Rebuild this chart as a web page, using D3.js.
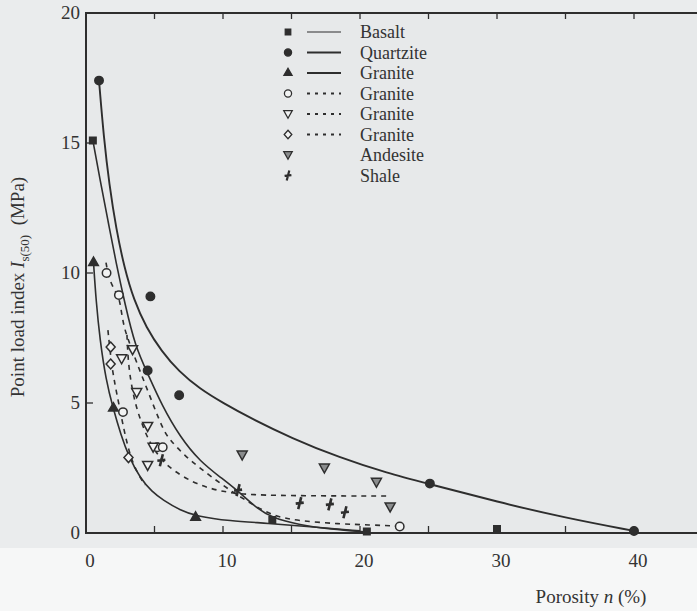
<!DOCTYPE html>
<html>
<head>
<meta charset="utf-8">
<script src="https://cdn.jsdelivr.net/npm/d3@7"></script>
<style>
  body { margin: 0; background: #f6f7f7; }
  #chart { width: 697px; height: 611px; }
</style>
</head>
<body>
<div id="chart"></div>
<script>
// measured points [porosity %, Is(50) MPa]
const basaltPts = [[0.5, 15.1], [13.6, 0.5], [20.5, 0.06], [30, 0.15]]
const quartzitePts = [[0.95, 17.4], [4.7, 9.1], [4.5, 6.25], [6.8, 5.3], [25.1, 1.9], [40, 0.08]]
const graniteTriPts = [[0.55, 10.4], [2.0, 4.8], [8.0, 0.6]]
const graniteCirclePts = [[1.5, 10.0], [2.4, 9.15], [2.7, 4.65], [5.2, 3.3], [5.6, 3.3], [22.9, 0.25]]
const graniteInvTriPts = [[2.6, 6.7], [3.4, 7.05], [3.7, 5.4], [4.5, 4.1], [4.9, 3.3], [4.5, 2.6]]
const graniteDiamondPts = [[1.8, 7.15], [1.8, 6.5], [3.1, 2.9]]
const andesitePts = [[11.4, 3.0], [17.4, 2.5], [21.2, 1.95], [22.2, 1.0]]
const shalePts = [[5.5, 2.8], [11.1, 1.65], [15.6, 1.15], [17.8, 1.1], [18.9, 0.8]]

// fitted curves as drawn in the figure
const quartziteCurve = [[0.95, 17.4], [1.3, 15.2], [1.7, 13.4], [2.2, 11.7], [2.8, 10.2], [3.5, 8.95], [4.4, 7.9], [5.5, 7.0], [6.8, 6.2], [8.3, 5.55], [10, 5.0], [12, 4.42], [15, 3.65], [18.5, 2.9], [22, 2.3], [25.1, 1.88], [30, 1.2], [35, 0.58], [40, 0.08]]
const basaltCurve = [[0.5, 15.1], [1.02, 13.6], [1.61, 12.0], [2.19, 10.4], [2.85, 8.8], [3.58, 7.2], [4.53, 6.1], [5.55, 4.9], [6.86, 3.7], [8.32, 2.75], [9.93, 2.1], [11.24, 1.55], [12.34, 1.0], [13.58, 0.58], [15.6, 0.31], [17.8, 0.15], [20.5, 0.04]]
const graniteTriCurve = [[0.55, 10.4], [0.73, 8.96], [1.02, 7.42], [1.46, 5.88], [1.97, 4.81], [2.55, 3.77], [3.14, 2.92], [3.94, 2.12], [4.82, 1.58], [5.62, 1.27], [6.86, 0.88], [8.03, 0.65], [10.5, 0.46], [13.2, 0.38], [16.6, 0.23], [20, 0.08]]
const graniteCircleCurve = [[1.46, 10.4], [1.61, 9.96], [1.9, 9.5], [2.41, 9.08], [2.55, 8.62], [2.77, 7.92], [3.07, 7.46], [3.65, 6.62], [4.6, 5.35], [5.62, 3.96], [6.13, 3.58], [7.23, 2.96], [8.32, 2.5], [9.93, 1.85], [11.6, 1.27], [13.58, 0.65], [15.6, 0.46], [18.5, 0.35], [20.7, 0.31], [22.7, 0.27]]
const graniteInvTriCurve = [[2.99, 7.62], [3.07, 6.65], [3.28, 5.77], [3.65, 4.85], [4.16, 4.08], [4.67, 3.46], [5.4, 2.88], [6.28, 2.42], [8.1, 1.85], [10.0, 1.58], [11.97, 1.46], [16.0, 1.43], [22.2, 1.42]]
const graniteDiamondCurve = [[1.6, 7.8], [1.9, 6.27], [2.34, 5.12], [2.77, 3.96], [3.2, 3.0], [3.7, 2.35], [4.3, 1.85]]

const legendLabels = ['Basalt', 'Quartzite', 'Granite', 'Granite', 'Granite', 'Granite', 'Andesite', 'Shale']
const xTicks = [0, 10, 20, 30, 40]
const minorTicks = [5, 10, 15, 20, 25, 30, 35, 40]
const yTicks = [0, 5, 10, 15, 20]

const width = 697
const height = 611
const ink = '#2e2e2e'
const serif = '"Liberation Serif", "DejaVu Serif", serif'

const x = d3.scaleLinear().domain([0, 45]).range([86, 702.5])
const y = d3.scaleLinear().domain([0, 20]).range([533, 13])

const svg = d3.select('#chart')
  .append('svg')
  .attr('width', width)
  .attr('height', height)
  .style('font-family', serif)

svg.append('rect')
  .attr('width', width)
  .attr('height', 548)
  .attr('fill', '#eaeced')

// frame
svg.append('rect')
  .attr('x', x(0))
  .attr('y', y(20))
  .attr('width', x(45) - x(0))
  .attr('height', y(0) - y(20))
  .attr('fill', '#e7e9ea')
  .attr('stroke', ink)
  .attr('stroke-width', 2)

// inward ticks
svg.append('g')
  .selectAll('line')
  .data(minorTicks)
  .join('line')
  .attr('x1', d => x(d)).attr('x2', d => x(d))
  .attr('y1', y(0)).attr('y2', y(0) - 7)
  .attr('stroke', ink).attr('stroke-width', 1.3)

svg.append('g')
  .selectAll('line')
  .data(minorTicks)
  .join('line')
  .attr('x1', d => x(d)).attr('x2', d => x(d))
  .attr('y1', y(20)).attr('y2', y(20) + 6)
  .attr('stroke', ink).attr('stroke-width', 1.3)

svg.append('g')
  .selectAll('line')
  .data([5, 10, 15])
  .join('line')
  .attr('x1', x(0)).attr('x2', x(0) + 7)
  .attr('y1', d => y(d)).attr('y2', d => y(d))
  .attr('stroke', ink).attr('stroke-width', 1.3)

// tick labels
svg.append('g')
  .selectAll('text')
  .data(xTicks)
  .join('text')
  .attr('x', d => x(d) + 4)
  .attr('y', 567)
  .attr('text-anchor', 'middle')
  .attr('font-size', 19)
  .attr('fill', '#333')
  .text(d => d)

svg.append('g')
  .selectAll('text')
  .data(yTicks)
  .join('text')
  .attr('x', 80)
  .attr('y', d => y(d) + 6)
  .attr('text-anchor', 'end')
  .attr('font-size', 19)
  .attr('fill', '#333')
  .text(d => d)

// axis titles
const xt = svg.append('text')
  .attr('x', 591)
  .attr('y', 603)
  .attr('text-anchor', 'middle')
  .attr('font-size', 19)
  .attr('fill', '#333')
xt.append('tspan').text('Porosity ')
xt.append('tspan').attr('font-style', 'italic').text('n')
xt.append('tspan').text(' (%)')

const yt = svg.append('text')
  .attr('transform', 'translate(24,287) rotate(-90)')
  .attr('text-anchor', 'middle')
  .attr('font-size', 19)
  .attr('fill', '#333')
yt.append('tspan').text('Point load index ')
yt.append('tspan').attr('font-style', 'italic').text('I')
yt.append('tspan').attr('font-size', 13).attr('dy', 5).text('s(50)')
yt.append('tspan').attr('dy', -5).text('\u2002(MPa)')

// curves
const line = d3.line()
  .x(d => x(d[0]))
  .y(d => y(d[1]))
  .curve(d3.curveBasis)

const curves = [
  { pts: quartziteCurve, w: 1.9, dash: null },
  { pts: basaltCurve, w: 1.6, dash: null },
  { pts: graniteTriCurve, w: 1.6, dash: null },
  { pts: graniteCircleCurve, w: 1.6, dash: '5,5' },
  { pts: graniteInvTriCurve, w: 1.6, dash: '5,5' },
  { pts: graniteDiamondCurve, w: 1.6, dash: '5,5' }
]

svg.append('g')
  .selectAll('path')
  .data(curves)
  .join('path')
  .attr('d', d => line(d.pts))
  .attr('fill', 'none')
  .attr('stroke', ink)
  .attr('stroke-width', d => d.w)
  .attr('stroke-dasharray', d => d.dash)

// markers
const invTri = 'M-5,-4L5,-4L0,5Z'
const shalePath = 'M-1.5,6L1.5,-6M-4,0.5L4,-0.5'
const sym = {
  square: d3.symbol(d3.symbolSquare, 42)(),
  circle: d3.symbol(d3.symbolCircle, 56)(),
  triangle: d3.symbol(d3.symbolTriangle, 40)(),
  diamond: 'M0,-5L4.5,0L0,5L-4.5,0Z'
}

const series = [
  { pts: basaltPts, path: sym.square, fill: ink, stroke: ink },
  { pts: quartzitePts, path: sym.circle, fill: ink, stroke: ink },
  { pts: graniteTriPts, path: sym.triangle, fill: ink, stroke: ink },
  { pts: graniteCirclePts, path: sym.circle, fill: '#f2f3f3', stroke: ink },
  { pts: graniteInvTriPts, path: invTri, fill: '#f2f3f3', stroke: ink },
  { pts: graniteDiamondPts, path: sym.diamond, fill: '#f2f3f3', stroke: ink },
  { pts: andesitePts, path: invTri, fill: '#8a8c8d', stroke: ink },
  { pts: shalePts, path: shalePath, fill: 'none', stroke: ink, w: 2.6 }
]

series.forEach(s => {
  svg.append('g')
    .selectAll('path')
    .data(s.pts)
    .join('path')
    .attr('transform', d => `translate(${x(d[0])},${y(d[1])})`)
    .attr('d', s.path)
    .attr('fill', s.fill)
    .attr('stroke', s.stroke)
    .attr('stroke-width', s.w || 1.5)
})

// legend
const legend = svg.append('g')
const rowY = i => 32 + i * 20.5
const legendLines = [
  { w: 1.1, dash: null },
  { w: 2.2, dash: null },
  { w: 1.8, dash: null },
  { w: 1.8, dash: '3,5' },
  { w: 1.8, dash: '3,5' },
  { w: 1.8, dash: '3,5' },
  null,
  null
]

legend.selectAll('path')
  .data(series)
  .join('path')
  .attr('transform', (d, i) => `translate(288,${rowY(i)}) scale(0.85)`)
  .attr('d', d => d.path)
  .attr('fill', d => d.fill)
  .attr('stroke', d => d.stroke)
  .attr('stroke-width', d => d.w || 1.5)

legend.selectAll('line')
  .data(legendLines.map((d, i) => ({ ...d, i })).filter(d => d.w))
  .join('line')
  .attr('x1', 307).attr('x2', 341)
  .attr('y1', d => rowY(d.i)).attr('y2', d => rowY(d.i))
  .attr('stroke', ink)
  .attr('stroke-width', d => d.w)
  .attr('stroke-dasharray', d => d.dash)

legend.selectAll('text')
  .data(legendLabels)
  .join('text')
  .attr('x', 360)
  .attr('y', (d, i) => rowY(i) + 6)
  .attr('font-size', 18)
  .attr('fill', '#333')
  .text(d => d)
</script>
</body>
</html>
